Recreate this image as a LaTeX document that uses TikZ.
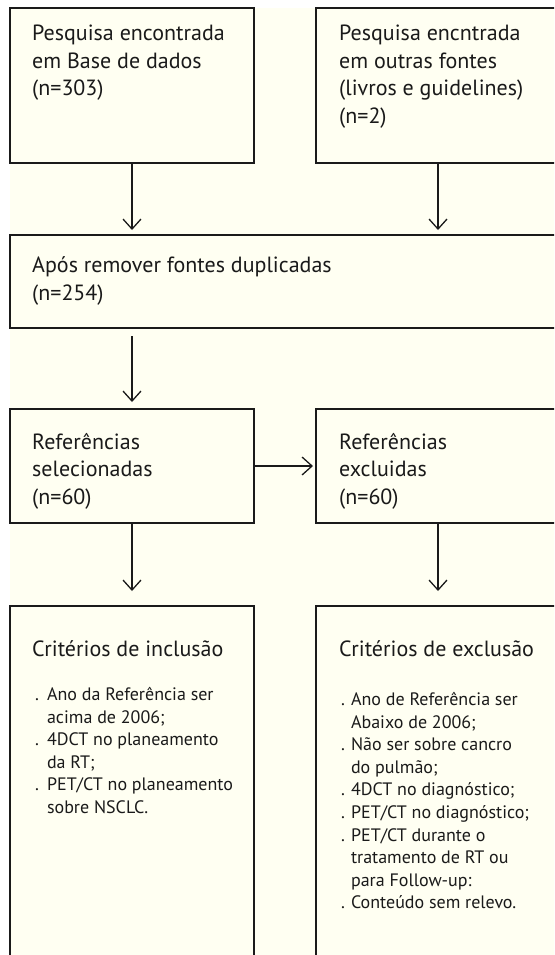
\documentclass[tikz,border=0pt]{standalone}
\usepackage{fontspec}
\setmainfont{PT Sans}
\usetikzlibrary{arrows.meta,positioning}
\definecolor{paper}{HTML}{FFFFF2}
\definecolor{ink}{HTML}{1A1A1A}

\begin{document}
\begin{tikzpicture}[x=1pt,y=-1pt,
			box/.style={draw=ink,line width=1.8pt,fill=paper,anchor=north west,inner sep=0,outer sep=0,minimum width=244pt},
			txt/.style={anchor=base west,align=left,inner sep=0,text=ink,font=\fontsize{22}{27.5}\selectfont},
			lst/.style={anchor=base west,inner sep=0,text=ink,font=\fontsize{18}{22.6}\selectfont},
			arr/.style={draw=ink,line width=1.3pt,-{Straight Barb[length=10pt,width=18pt]},shorten >=5pt}
		]
		\useasboundingbox (0,0) rectangle (554,955);
		\clip (0,0) rectangle (554,955);
		\fill[paper] (10,8) rectangle (600,1000);
		\node[box,minimum height=155pt] (srcA) at (10,8) {};
		\node[box,minimum height=155pt] (srcB) at (316,8) {};
		\node[box,minimum width=600pt,minimum height=93pt] (dedup) at (10,235) {};
		\node[box,minimum height=114pt] (sel) at (10,409) {};
		\node[box,minimum height=114pt] (exc) at (316,409) {};
		\node[box,minimum height=400pt] (incl) at (10,606) {};
		\node[box,minimum height=400pt] (excl) at (316,606) {};
		% multi-line texts sit on the baseline of their last line
		\node[txt] (tA) at (32,96) {Pesquisa encontrada\\em Base de dados\\(n=303)};
		\node[txt] (tB) at (339,123.5) {Pesquisa encntrada\\em outras fontes\\(livros e guidelines)\\(n=2)};
		\node[txt] (tC) at (32,300) {Após remover fontes duplicadas\\(n=254)};
		\node[txt] (tD) at (32,504) {Referências\\selecionadas\\(n=60)};
		\node[txt] (tE) at (339,504) {Referências\\excluidas\\(n=60)};
		\node[txt] (tF) at (32,656) {Critérios de inclusão};
		\node[txt] (tG) at (339,656) {Critérios de exclusão};
		\node[lst] (lF) at (35,700.5) {\begin{tabular}[t]{@{}l@{\hspace{8pt}}l@{}}
				. & Ano da Referência ser\\ & acima de 2006;\\
				. & 4DCT no planeamento\\ & da RT;\\
				. & PET/CT no planeamento\\ & sobre NSCLC.
			\end{tabular}};
		\node[lst] (lG) at (341,705.5) {\begin{tabular}[t]{@{}l@{\hspace{6pt}}l@{}}
				. & Ano de Referência ser\\ & Abaixo de 2006;\\
				. & Não ser sobre cancro\\ & do pulmão;\\
				. & 4DCT no diagnóstico;\\
				. & PET/CT no diagnóstico;\\
				. & PET/CT durante o\\ & tratamento de RT ou\\ & para Follow-up:\\
				. & Conteúdo sem relevo.
			\end{tabular}};
		\draw[arr] (srcA.south) -- (srcA.south |- dedup.north);
		\draw[arr] (srcB.south) -- (srcB.south |- dedup.north);
		\draw[arr,shorten <=8pt,shorten >=7pt] (sel.north |- dedup.south) -- (sel.north);
		\draw[arr,shorten >=3pt] (sel.east) -- (exc.west);
		\draw[arr,shorten >=15pt] (sel.south) -- (incl.north);
		\draw[arr,shorten >=15pt] (exc.south) -- (excl.north);
	\end{tikzpicture}
\end{document}
